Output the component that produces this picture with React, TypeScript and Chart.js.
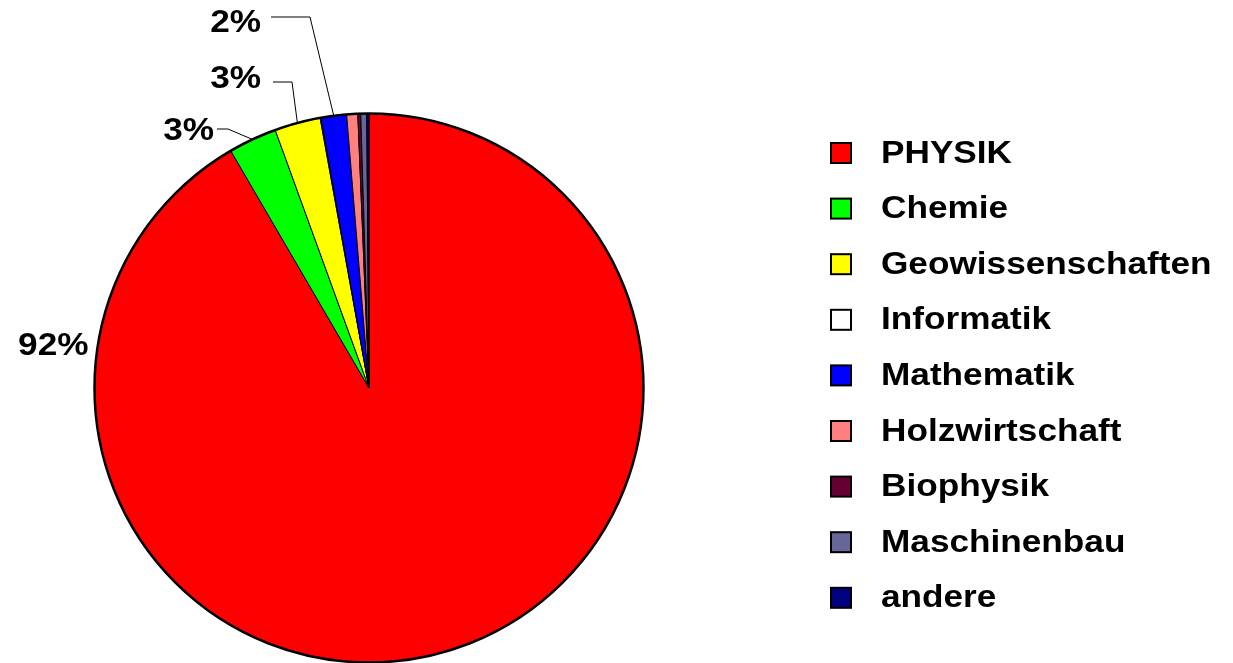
import React, { useEffect, useRef } from "react";
import { Chart, registerables } from "chart.js";

Chart.register(...registerables);

const categories = [
  "PHYSIK",
  "Chemie",
  "Geowissenschaften",
  "Informatik",
  "Mathematik",
  "Holzwirtschaft",
  "Biophysik",
  "Maschinenbau",
  "andere",
];
const shares = [91.6, 2.85, 2.7, 0.05, 1.5, 0.65, 0.17, 0.35, 0.13];
const sliceColors = [
  "#FF0000",
  "#00FF00",
  "#FFFF00",
  "#FFFFFF",
  "#0000FF",
  "#FF8080",
  "#660033",
  "#666699",
  "#000080",
];
const labelledSlices = [0, 1, 2, 4];

const FONT = '"Liberation Sans", Arial, Helvetica, sans-serif';

// leader layout: elbow offset from pie centre, tail length, text gap, text vertical shift
const leaderLayout: Record<number, { ex: number; ey: number; tail: number; gap: number; ty: number }> = {
  1: { ex: -141, ey: -259, tail: 11, gap: 3, ty: 2 },
  2: { ex: -77, ey: -306, tail: 19, gap: 12, ty: -3 },
  4: { ex: -59, ey: -371, tail: 39, gap: 10, ty: 6 },
};

function stretchedText(
  ctx: CanvasRenderingContext2D,
  text: string,
  x: number,
  y: number,
  align: CanvasTextAlign,
  size: number,
  sx: number
) {
  ctx.save();
  ctx.translate(x, y);
  ctx.scale(sx, 1);
  ctx.font = `bold ${size}px ${FONT}`;
  ctx.textAlign = align;
  ctx.textBaseline = "middle";
  ctx.fillStyle = "#000000";
  ctx.fillText(text, 0, 0);
  ctx.restore();
}

const overlayPlugin = {
  id: "overlay",
  afterDatasetsDraw(chart: any) {
    const ctx: CanvasRenderingContext2D = chart.ctx;
    const meta = chart.getDatasetMeta(0);
    const first = meta.data[0].getProps(["x", "y", "outerRadius"], true);
    const cx = first.x;
    const cy = first.y;
    const R = first.outerRadius;

    // outer rim
    ctx.save();
    ctx.beginPath();
    ctx.arc(cx, cy, R, 0, Math.PI * 2);
    ctx.lineWidth = 2.5;
    ctx.strokeStyle = "#000000";
    ctx.stroke();
    ctx.restore();

    const total = shares.reduce((a, b) => a + b, 0);

    labelledSlices.forEach((i) => {
      const arc = meta.data[i].getProps(["startAngle", "endAngle"], true);
      const mid = (arc.startAngle + arc.endAngle) / 2;
      const txt = Math.round((shares[i] / total) * 100) + "%";
      if (i === 0) {
        stretchedText(ctx, txt, cx - R - 6, cy - 42, "right", 32, 1.1);
        return;
      }
      const L = leaderLayout[i];
      const px = cx + Math.cos(mid) * R;
      const py = cy + Math.sin(mid) * R;
      const ex = cx + L.ex;
      const ey = cy + L.ey;
      const tx = ex - L.tail;
      ctx.save();
      ctx.beginPath();
      ctx.moveTo(px, py);
      ctx.lineTo(ex, ey);
      ctx.lineTo(tx, ey);
      ctx.lineWidth = 1;
      ctx.strokeStyle = "#000000";
      ctx.stroke();
      ctx.restore();
      stretchedText(ctx, txt, tx - L.gap, ey + L.ty, "right", 32, 1.1);
    });

    // legend
    const boxX = 831;
    const startY = 153;
    const step = 55.6;
    categories.forEach((name, i) => {
      const y = startY + i * step;
      ctx.save();
      ctx.fillStyle = sliceColors[i];
      ctx.fillRect(boxX, y - 10, 20, 20);
      ctx.lineWidth = 2;
      ctx.strokeStyle = "#000000";
      ctx.strokeRect(boxX, y - 10, 20, 20);
      ctx.restore();
      stretchedText(ctx, name, 881, y + 1, "left", 31, 1.135);
    });
  },
};

export default function App() {
  const canvasRef = useRef<HTMLCanvasElement | null>(null);

  useEffect(() => {
    const canvas = canvasRef.current;
    if (!canvas) return;
    const chart = new Chart(canvas, {
      type: "pie",
      data: {
        labels: categories,
        datasets: [
          {
            data: shares,
            backgroundColor: sliceColors,
            borderColor: "#000000",
            borderWidth: 1,
          },
        ],
      },
      options: {
        responsive: false,
        animation: false,
        layout: { padding: { left: 94, top: 113, right: 589, bottom: 0 } },
        plugins: {
          legend: { display: false },
          tooltip: { enabled: false },
        },
      },
      plugins: [overlayPlugin],
    });
    return () => chart.destroy();
  }, []);

  return (
    <div style={{ position: "absolute", left: 0, top: 0, width: 1233, height: 663, background: "#ffffff" }}>
      <canvas ref={canvasRef} width={1233} height={663} style={{ display: "block" }} />
    </div>
  );
}
